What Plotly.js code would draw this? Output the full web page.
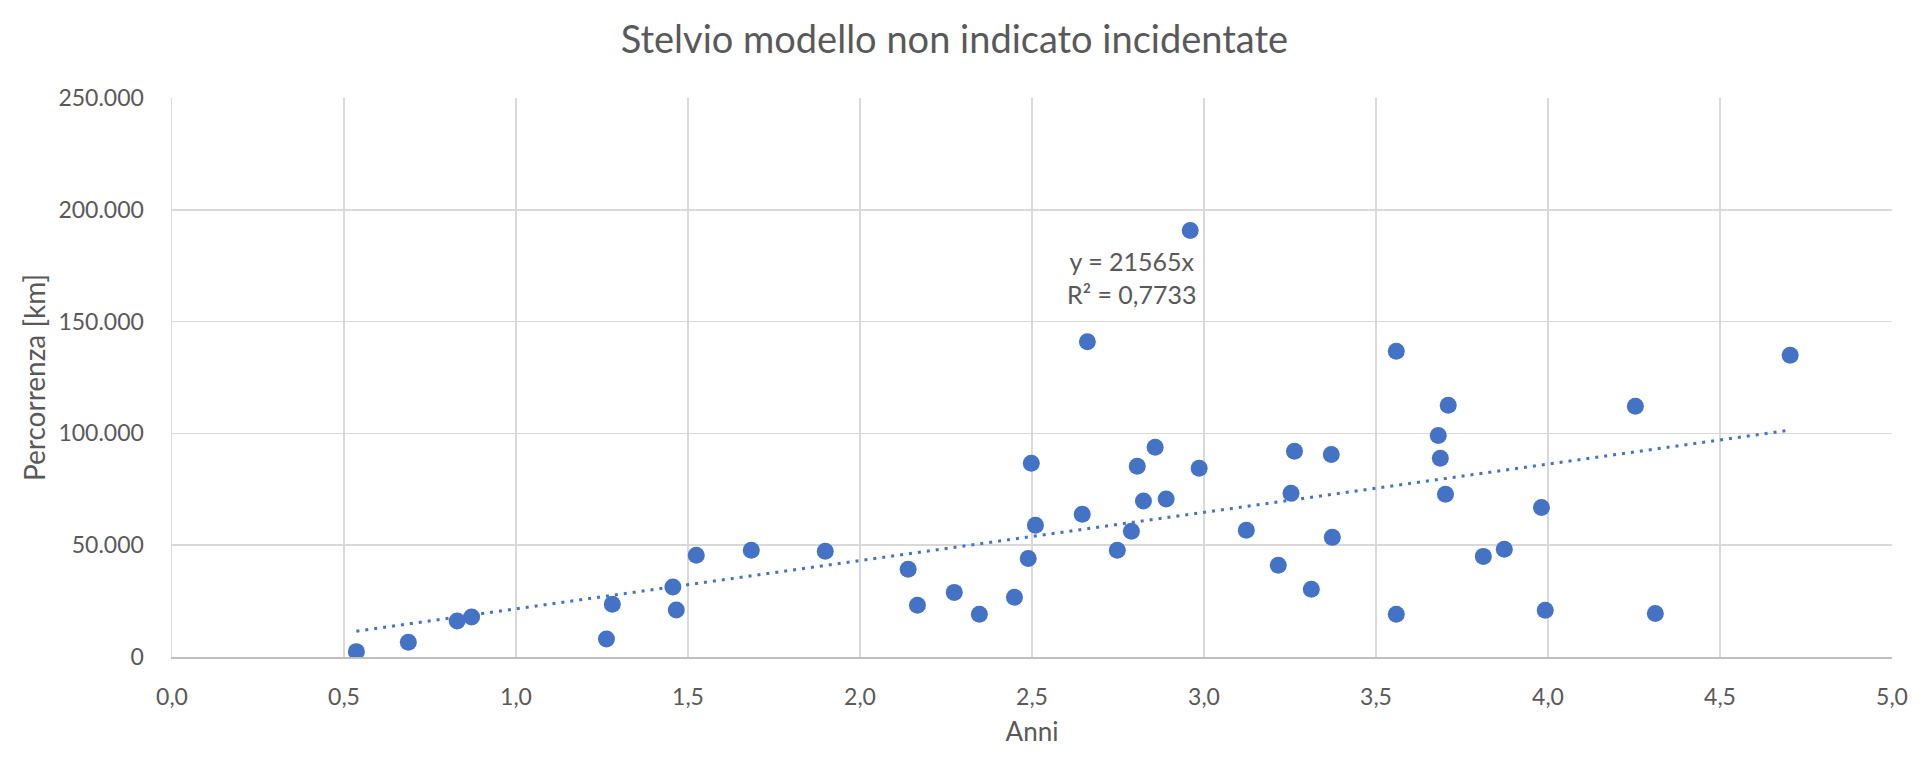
<!DOCTYPE html>
<html>
<head>
<meta charset="utf-8">
<script src="https://cdn.plot.ly/plotly-3.0.1.min.js"></script>
<style>
	html, body {margin: 0; padding: 0; background: #fff;}
	#grafico {width: 1932px; height: 784px;}
</style>
</head>
<body>
<div id="grafico"></div>
<script>
// dati (anni, km percorsi)
const anni = [0.536, 0.687, 0.829, 0.871, 1.263, 1.280, 1.456, 1.466, 1.524, 1.684,
	1.899, 2.140, 2.167, 2.274, 2.347, 2.449, 2.489, 2.498, 2.510, 2.646,
	2.661, 2.748, 2.789, 2.806, 2.824, 2.858, 2.890, 2.960, 2.986, 3.123,
	3.216, 3.253, 3.263, 3.312, 3.370, 3.373, 3.559, 3.559, 3.681, 3.687,
	3.702, 3.710, 3.812, 3.873, 3.981, 3.992, 4.254, 4.312, 4.704];
const percorrenza = [2400, 6600, 16100, 17900, 8000, 23600, 31300, 21000, 45500, 47700,
	47300, 39200, 23100, 28900, 19100, 26700, 44100, 86600, 58900, 63800,
	141000, 47700, 56200, 85300, 69800, 93800, 70700, 190700, 84400, 56700,
	41000, 73200, 92000, 30300, 90600, 53500, 19100, 136700, 99100, 88900,
	72800, 112600, 45000, 48200, 66900, 20900, 112100, 19500, 134900];

// linea di tendenza y = 21565x (intercetta 0)
const coefficiente = 21565;
const r2 = '0,7733';

const xMin = Math.min(...anni);
const xMax = Math.max(...anni);

const colore = '#4472C4';
const grigioTesto = '#595959';
const font = 'Lato, "Open Sans", sans-serif';

var punti = {
	x: anni, y: percorrenza,
	mode: 'markers',
	type: 'scatter',
	marker: {color: colore, size: 17, line: {width: 0}},
	hoverinfo: 'none',
	showlegend: false
};

var tendenza = {
	x: [xMin, xMax],
	y: [coefficiente * xMin, coefficiente * xMax],
	mode: 'lines',
	type: 'scatter',
	line: {color: colore, width: 3, dash: '3px,6px'},
	hoverinfo: 'none',
	showlegend: false
};

var layout = {
	width: 1932,
	height: 784,
	margin: {l: 172, r: 40, t: 98, b: 127},
	paper_bgcolor: '#fff',
	plot_bgcolor: '#fff',
	separators: ',.',
	font: {family: font, color: grigioTesto, size: 23},
	title: {
		text: 'Stelvio modello non indicato incidentate',
		font: {family: font, size: 38, color: grigioTesto},
		x: 0.494, xref: 'container', xanchor: 'center',
		y: 0.949, yref: 'container', yanchor: 'middle'
	},
	xaxis: {
		range: [0, 5],
		dtick: 0.5,
		tick0: 0,
		tickformat: '.1f',
		showgrid: true,
		gridcolor: '#D9D9D9',
		gridwidth: 1.5,
		zeroline: false,
		showline: true,
		linecolor: '#BFBFBF',
		linewidth: 2,
		ticks: 'outside',
		ticklen: 18,
		tickcolor: 'rgba(0,0,0,0)',
		tickfont: {size: 23},
		title: {text: 'Anni', font: {size: 26}, standoff: 14}
	},
	yaxis: {
		range: [0, 250000],
		dtick: 50000,
		tick0: 0,
		tickformat: ',d',
		showgrid: true,
		gridcolor: '#D9D9D9',
		gridwidth: 1.5,
		zeroline: false,
		showline: true,
		linecolor: '#D9D9D9',
		linewidth: 1.5,
		ticks: 'outside',
		ticklen: 22,
		tickcolor: 'rgba(0,0,0,0)',
		tickfont: {size: 23},
		title: {text: 'Percorrenza [km]', font: {size: 28}, standoff: 4}
	},
	annotations: [{
		x: 2.79, y: 169700,
		xref: 'x', yref: 'y',
		text: 'y = 21565x<br>R² = ' + r2,
		showarrow: false,
		xanchor: 'center', yanchor: 'middle',
		font: {family: font, size: 25, color: grigioTesto}
	}]
};

Plotly.newPlot('grafico', [tendenza, punti], layout, {displayModeBar: false, staticPlot: true});
</script>
</body>
</html>
